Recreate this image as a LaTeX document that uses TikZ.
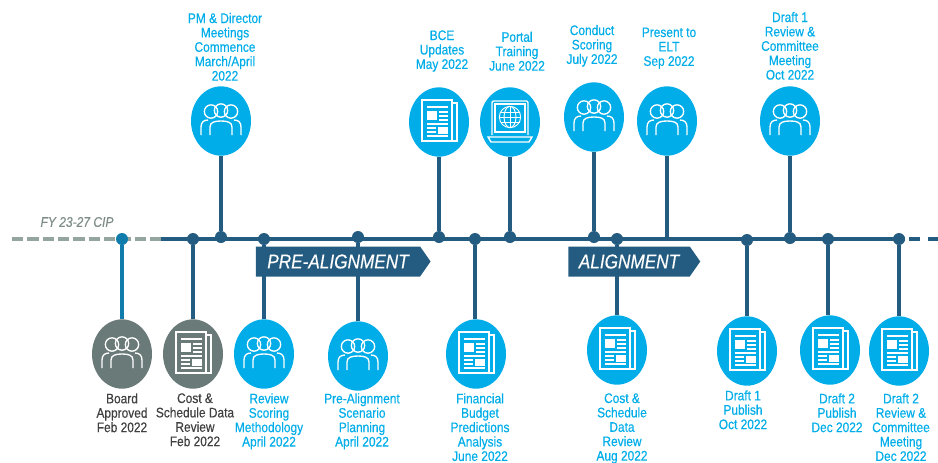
\documentclass[tikz,border=0pt]{standalone}
\usepackage{fontspec}
\setmainfont[FakeStretch=0.86,FakeBold=0.4]{Liberation Sans}
\usetikzlibrary{shapes.geometric,shapes.symbols}
\definecolor{lineblue}{HTML}{235C80}
\definecolor{boardblue}{HTML}{0F7CAB}
\definecolor{skyblue}{HTML}{00ADE8}
\definecolor{slategray}{HTML}{6A7A78}
\definecolor{dashgray}{HTML}{94A5A0}
\definecolor{textgray}{HTML}{404040}
\tikzstyle{event} = [ellipse, fill=skyblue, minimum width=45pt, minimum height=52pt, inner sep=0pt]
\tikzstyle{grayevent} = [event, fill=slategray]
\tikzstyle{dot} = [circle, fill=lineblue, minimum size=9pt, inner sep=0pt]
\tikzstyle{stem} = [draw=lineblue, line width=3pt]
\tikzstyle{timeline} = [line width=3.2pt]
\tikzstyle{label} = [align=center, text=skyblue, font=\fontsize{10.4}{10.8}\selectfont, inner sep=0pt]
\tikzstyle{graylabel} = [label, text=textgray]
\tikzstyle{phase} = [signal, signal to=east, signal pointer angle=110, fill=lineblue, text=white, font=\fontsize{15}{17}\selectfont\itshape, minimum height=22.5pt, inner sep=2pt]
\tikzset{
  peopleicon/.pic={
    \draw[white, line width=1pt] (-10,-9.5) circle (5pt) (10,-9.5) circle (5pt);
    \draw[white, line width=1pt] (0,-10.5) circle (5pt);
    \draw[white, line width=1pt] (-11,14) -- (-11,6) .. controls (-11,1) and (-6,0) .. (0,0) .. controls (6,0) and (11,1) .. (11,6) -- (11,14);
    \draw[white, line width=1pt] (-20,14) -- (-20,6) .. controls (-20,1) and (-17,-1) .. (-13,-1);
    \draw[white, line width=1pt] (20,14) -- (20,6) .. controls (20,1) and (17,-1) .. (13,-1);
  },
  papericon/.pic={
    \draw[white, line width=1.6pt] (-17,-22) rectangle (13,19);
    \draw[white, line width=1.6pt] (13,-19) -- (18,-19) -- (18,19) -- (13,19);
    \fill[white] (-12,-11) rectangle (-2,-2);
    \fill[white] (-1,5) rectangle (9,12);
    \draw[white, line width=1pt] (-12,-15) -- (9,-15) (0,-10) -- (9,-10) (0,-6) -- (9,-6) (0,-2) -- (9,-2)
      (-12,2) -- (9,2) (-12,6) -- (-3,6) (-12,10) -- (-3,10) (-12,14) -- (9,14);
  },
  laptopicon/.pic={
    \draw[white, line width=1pt, rounded corners=1pt] (-18,13) -- (-18,-21) -- (18,-21) -- (18,13);
    \draw[white, line width=.8pt] (-15,10) rectangle (15,-18);
    \draw[white, line width=1pt] (-22,15) -- (22,15) -- (19,20) -- (-19,20) -- cycle;
    \draw[white, line width=.7pt] (0,-5) circle (8pt);
    \draw[white, line width=.7pt] (0,-5) ellipse (4.5pt and 8pt);
    \draw[white, line width=.7pt] (0,-15.6) -- (0,5.6) (-10.6,-5) -- (10.6,-5) (-9.5,-10) -- (9.5,-10) (-9.5,0) -- (9.5,0);
  }
}

\begin{document}
\begin{tikzpicture}[x=0.75pt, y=-0.75pt]
	\useasboundingbox (0,0) rectangle (938,462);
	% timeline
	\coordinate (lineA) at (12,239);
	\coordinate (lineB) at (161,239);
	\coordinate (lineC) at (905,239);
	\coordinate (lineD) at (938,239);
	\draw[timeline, dashgray, dash pattern=on 8.5pt off 3pt] (lineA) -- (lineB);
	\draw[timeline, lineblue] (lineB) -- (lineC);
	\draw[timeline, lineblue, dash pattern=on 0pt off 3pt on 8pt off 3pt] (lineC) -- (lineD);
	\node[text=dashgray!85!black, font=\fontsize{10.5}{12}\selectfont\itshape, inner sep=0pt] (cip) at (77,222) {FY 23-27 CIP};
	% dots on the line
	\node[dot, fill=boardblue] (d1) at (122,239) {};
	\node[dot] (d2) at (193,239) {};
	\node[dot] (d3) at (221,237) {};
	\node[dot] (d4) at (264,239) {};
	\node[dot] (d5) at (358,237) {};
	\node[dot] (d6) at (439,237) {};
	\node[dot] (d7) at (475,239) {};
	\node[dot] (d8) at (510,237) {};
	\node[dot] (d9) at (594,237) {};
	\node[dot] (d10) at (617,239) {};
	\node[dot] (d11) at (747,240) {};
	\node[dot] (d12) at (790,238) {};
	\node[dot] (d13) at (828,239) {};
	\node[dot] (d14) at (899,239) {};
	% events above the line
	\node[event] (pm) at (221,121) {};
	\node[event] (bce) at (439,122) {};
	\node[event] (portal) at (510,122) {};
	\node[event] (scoring) at (594,117) {};
	\node[event] (elt) at (667,121) {};
	\node[event] (draftA) at (790,121) {};
	% events below the line
	\node[grayevent] (board) at (122,354) {};
	\node[grayevent] (cost) at (193,354) {};
	\node[event] (method) at (264,354) {};
	\node[event] (scenario) at (358,356) {};
	\node[event] (budget) at (476,354) {};
	\node[event] (data) at (617,350) {};
	\node[event] (pubA) at (747,351) {};
	\node[event] (pubB) at (830,350) {};
	\node[event] (draftB) at (899,351) {};
	% stems
	\coordinate (eltFoot) at (667,239);
	\draw[stem] (pm) -- (d3);
	\draw[stem] (bce) -- (d6);
	\draw[stem] (portal) -- (d8);
	\draw[stem] (scoring) -- (d9);
	\draw[stem] (elt) -- (eltFoot);
	\draw[stem] (draftA) -- (d12);
	\draw[stem, boardblue] (board) -- (d1);
	\draw[stem] (cost) -- (d2);
	\draw[stem] (method) -- (d4);
	\draw[stem] (scenario) -- (d5);
	\draw[stem] (budget.north -| d7) -- (d7);
	\draw[stem] (data) -- (d10);
	\draw[stem] (pubA) -- (d11);
	\draw[stem] (pubB.north -| d13) -- (d13);
	\draw[stem] (draftB) -- (d14);
	% phase banners
	\node[phase, minimum width=131pt] (pre) at (338,261.5) {PRE-ALIGNMENT};
	\node[phase, minimum width=99pt] (align) at (629,261.5) {ALIGNMENT};
	% icons
	\pic at (pm) {peopleicon};
	\pic at (bce) {papericon};
	\pic at (portal) {laptopicon};
	\pic at (scoring) {peopleicon};
	\pic at (elt) {peopleicon};
	\pic at (draftA) {peopleicon};
	\pic at (board) {peopleicon};
	\pic at (cost) {papericon};
	\pic at (method) {peopleicon};
	\pic at (scenario) {peopleicon};
	\pic at (budget) {papericon};
	\pic at (data) {papericon};
	\pic at (pubA) {papericon};
	\pic at (pubB) {papericon};
	\pic at (draftB) {papericon};
	% labels
	\node[label, anchor=south] (pmText) at (225,81) {PM \& Director\\Meetings\\Commence\\March/April\\2022};
	\node[label, anchor=south] (bceText) at (442,72) {BCE\\Updates\\May 2022};
	\node[label, anchor=south] (portalText) at (517,71) {Portal\\Training\\June 2022};
	\node[label, anchor=south] (scoringText) at (592,67) {Conduct\\Scoring\\July 2022};
	\node[label, anchor=south] (eltText) at (669,69) {Present to\\ELT\\Sep 2022};
	\node[label, anchor=south] (draftAText) at (790,80) {Draft 1\\Review \&\\Committee\\Meeting\\Oct 2022};
	\node[graylabel, anchor=north] (boardText) at (122,393) {Board\\Approved\\Feb 2022};
	\node[graylabel, anchor=north] (costText) at (195,393) {Cost \&\\Schedule Data\\Review\\Feb 2022};
	\node[label, anchor=north] (methodText) at (269,393) {Review\\Scoring\\Methodology\\April 2022};
	\node[label, anchor=north] (scenarioText) at (362,393) {Pre-Alignment\\Scenario\\Planning\\April 2022};
	\node[label, anchor=north] (budgetText) at (480,393) {Financial\\Budget\\Predictions\\Analysis\\June 2022};
	\node[label, anchor=north] (dataText) at (622,393) {Cost \&\\Schedule\\Data\\Review\\Aug 2022};
	\node[label, anchor=north] (pubAText) at (743,390) {Draft 1\\Publish\\Oct 2022};
	\node[label, anchor=north] (pubBText) at (837,393) {Draft 2\\Publish\\Dec 2022};
	\node[label, anchor=north] (draftBText) at (901,393) {Draft 2\\Review \&\\Committee\\Meeting\\Dec 2022};
\end{tikzpicture}
\end{document}
